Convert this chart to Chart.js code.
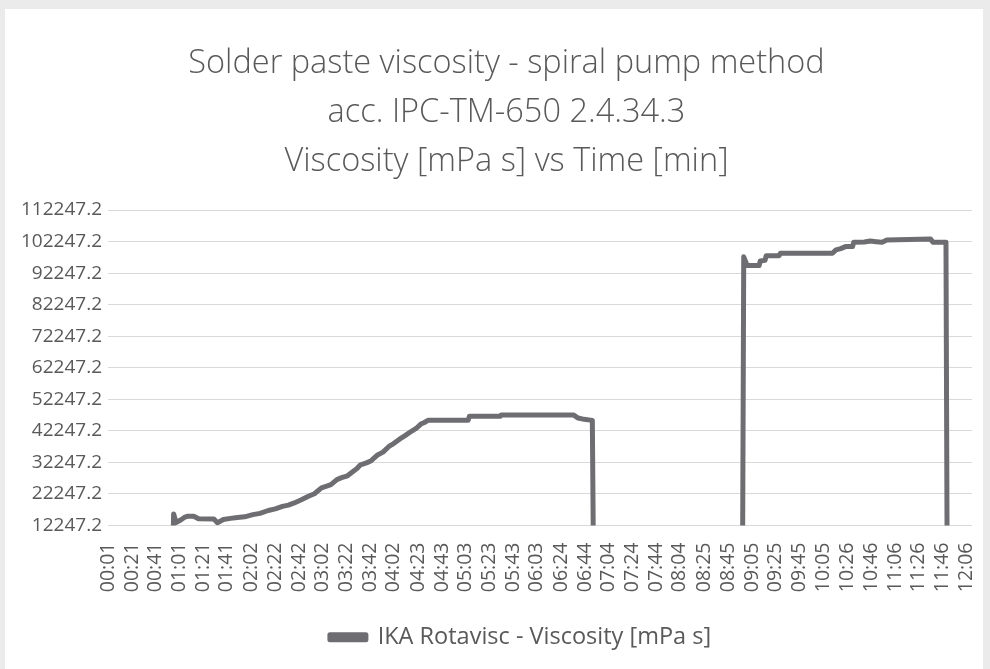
<!DOCTYPE html>
<html>
<head>
<meta charset="utf-8">
<script src="https://cdn.jsdelivr.net/npm/chart.js@4.4.1/dist/chart.umd.min.js"></script>
<style>
    body { margin: 0; background: #ebebeb; }
    #panel { position: absolute; left: 5px; top: 9px; width: 978px; height: 660px; background: #ffffff; }
</style>
</head>
<body>
<div id="panel"><canvas id="myChart" width="978" height="660"></canvas></div>
<script>
// time in seconds
let timeSec = [
    1, 55, 56, 58, 62, 65, 68, 73, 77, 90, 93, 98, 104, 110, 116, 123, 129, 136, 142, 148,
    153, 158, 164, 170, 175, 181, 186, 189, 194, 198, 203, 206, 211, 214, 219, 223, 228, 233, 238, 242,
    247, 252, 257, 261, 265, 268, 271, 305, 306, 332, 333, 394, 398, 403, 410, 411,
    537, 538, 541, 551, 552, 556, 557, 568, 569, 613, 616, 620, 624, 630, 631, 640, 645, 650, 655, 659,
    696, 698, 709, 710, 731
];

// viscosity [mPa s]
let viscosity = [
    0, 0, 15900, 13200, 14000, 14800, 15190, 15190, 14370, 14300, 13100, 14150, 14500, 14800, 15000, 15700, 16100, 17000, 17500, 18300,
    18700, 19400, 20400, 21500, 22300, 24200, 24800, 25200, 26800, 27400, 28000, 28900, 30300, 31500, 32100, 32800, 34500, 35500, 37300, 38200,
    39600, 40800, 42100, 43000, 44400, 44900, 45570, 45570, 46840, 46840, 47300, 47300, 46300, 45900, 45570, 0,
    0, 97400, 94620, 94620, 96100, 96300, 97780, 97780, 98540, 98540, 99590, 100000, 100640, 100640, 102030, 102100, 102400, 102200, 102000, 102750,
    103070, 102030, 102030, 0, 0
];

let tickLabels = [
    "00:01", "00:21", "00:41", "01:01", "01:21", "01:41", "02:02", "02:22", "02:42", "03:02",
    "03:22", "03:42", "04:02", "04:23", "04:43", "05:03", "05:23", "05:43", "06:03", "06:24",
    "06:44", "07:04", "07:24", "07:44", "08:04", "08:25", "08:45", "09:05", "09:25", "09:45",
    "10:05", "10:26", "10:46", "11:06", "11:26", "11:46", "12:06"
];

let yTicks = [12247.2, 22247.2, 32247.2, 42247.2, 52247.2, 62247.2, 72247.2, 82247.2, 92247.2, 102247.2, 112247.2];

function toSeconds(label) {
    let parts = label.split(":");
    return Number(parts[0]) * 60 + Number(parts[1]);
}

let points = timeSec.map(function(t, i) {
    return { x: t, y: viscosity[i] };
});

let grey = "#595959";
let lineColor = "#6e6e72";

// title and legend sit a bit right of the canvas centre in the original
let shiftBoxes = {
    id: 'shiftBoxes',
    afterLayout: function(chart) {
        chart.titleBlock.left += 18;
        chart.titleBlock.right += 18;
        chart.legend.left += 32;
        chart.legend.right += 32;
    }
};

let ctx = document.getElementById('myChart').getContext('2d');
let myChart = new Chart(ctx, {
    type: 'line',
    data: {
        datasets: [{
            label: 'IKA Rotavisc - Viscosity [mPa s]',
            data: points,
            borderColor: lineColor,
            backgroundColor: lineColor,
            borderWidth: 5,
            borderJoinStyle: 'round',
            pointRadius: 0,
            tension: 0
        }]
    },
    plugins: [shiftBoxes],
    options: {
        responsive: false,
        animation: false,
        layout: {
            padding: { left: 0, right: 11, top: 0, bottom: 10 }
        },
        plugins: {
            title: {
                display: true,
                text: [
                    'Solder paste viscosity - spiral pump method',
                    'acc. IPC-TM-650 2.4.34.3',
                    'Viscosity [mPa s] vs Time [min]'
                ],
                color: grey,
                font: { family: 'Open Sans', size: 32.5, weight: '300', lineHeight: '49px' },
                padding: { top: 30, bottom: 24 }
            },
            legend: {
                position: 'bottom',
                labels: {
                    color: grey,
                    font: { family: 'Open Sans', size: 23.5 },
                    boxWidth: 36,
                    boxHeight: 5
                }
            },
            tooltip: { enabled: false }
        },
        scales: {
            x: {
                type: 'linear',
                min: 0.5,
                max: 731,
                afterBuildTicks: function(axis) {
                    axis.ticks = tickLabels.map(function(l) { return { value: toSeconds(l) }; });
                },
                afterFit: function(scale) {
                    scale.height = 90;
                    scale.paddingLeft = 0;
                    scale.paddingRight = 0;
                },
                ticks: {
                    autoSkip: false,
                    maxRotation: 90,
                    minRotation: 90,
                    padding: 9,
                    color: grey,
                    font: { family: 'Open Sans', size: 19.5 },
                    callback: function(value, index) {
                        return tickLabels[index];
                    }
                },
                grid: { display: false },
                border: { display: false }
            },
            y: {
                min: 12247.2,
                max: 112247.2,
                afterBuildTicks: function(axis) {
                    axis.ticks = yTicks.map(function(v) { return { value: v }; });
                },
                afterFit: function(scale) {
                    scale.width = 103;
                },
                ticks: {
                    padding: 6,
                    color: grey,
                    font: { family: 'Open Sans', size: 19 },
                    callback: function(value) {
                        return value.toFixed(1);
                    }
                },
                grid: { color: '#d9d9d9', lineWidth: 1, drawTicks: false },
                border: { display: false }
            }
        }
    }
});
</script>
</body>
</html>
